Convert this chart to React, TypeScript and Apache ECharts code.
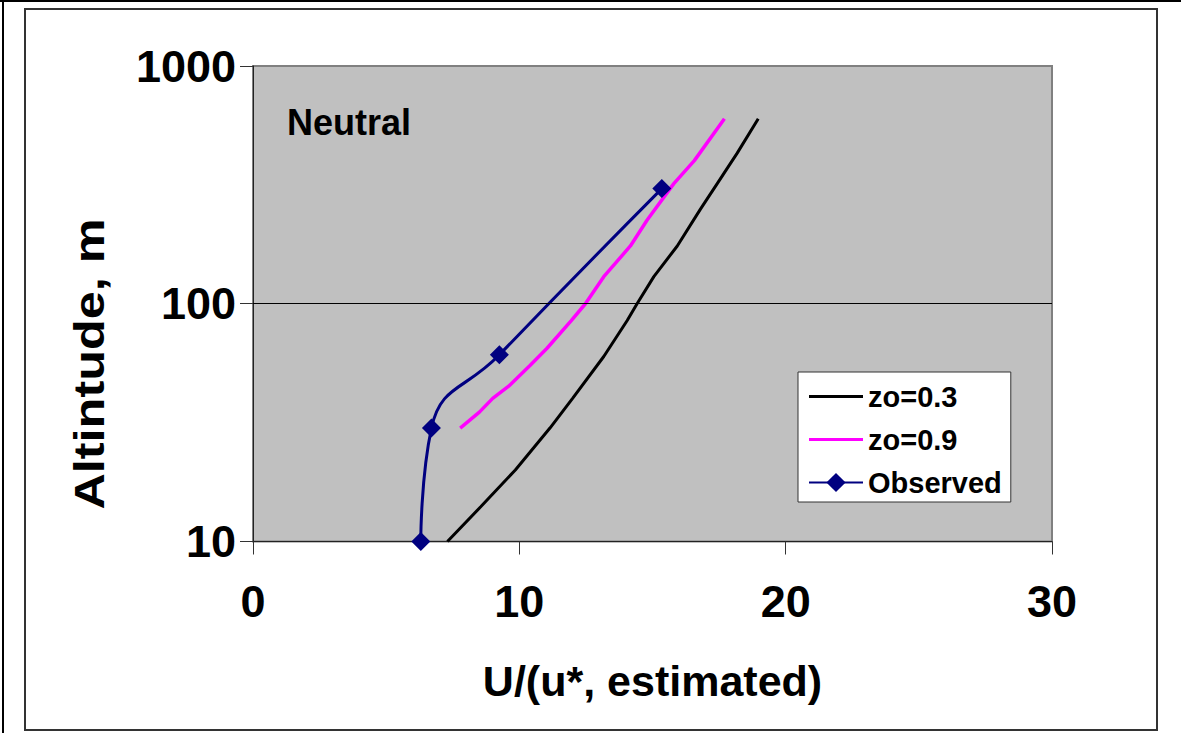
import { useEffect, useRef } from "react";
import * as echarts from "echarts";

// ---- data ----
const xTicks = [0, 10, 20, 30];
const yTicks = [10, 100, 1000];

// zo = 0.3 profile (U/u* vs altitude)
const z03Heights = [10, 14, 20, 30, 40, 60, 85, 100, 130, 175, 250, 320, 430, 600];
const z03Speeds = [7.3, 8.55, 9.85, 11.15, 12.0, 13.17, 14.05, 14.42, 15.05, 15.93, 16.8, 17.43, 18.18, 18.97];

// zo = 0.9 profile
const z09Heights = [30, 35, 40, 45, 55, 65, 85, 100, 130, 175, 225, 320, 400, 600];
const z09Speeds = [7.78, 8.5, 9.0, 9.6, 10.4, 11.04, 11.95, 12.48, 13.17, 14.17, 14.8, 15.8, 16.57, 17.7];

// observed
const obsHeights = [10, 30, 61, 305];
const obsSpeeds = [6.3, 6.7, 9.25, 15.35];

const seriesNames = ["zo=0.3", "zo=0.9", "Observed"];
const annotation = "Neutral";
const xTitle = "U/(u*, estimated)";
const yTitle = "Altintude, m";

const FONT = "'Liberation Sans', Arial, Helvetica, sans-serif";
const LINE_ICON = "path://M0 0H54V3H0Z";

const pairs = (xs: number[], ys: number[]) => xs.map((x, i) => [x, ys[i]]);

export default function App() {
  const ref = useRef<HTMLDivElement>(null);
  useEffect(() => {
    const chart = echarts.init(ref.current!, null, { renderer: "svg" });
    chart.setOption({
      animation: false,
      backgroundColor: "#ffffff",
      textStyle: { fontFamily: FONT },
      grid: {
        left: 253,
        top: 66,
        right: 129,
        bottom: 191.5,
        show: true,
        backgroundColor: "#C0C0C0",
        borderColor: "#808080",
        borderWidth: 2,
      },
      legend: {
        orient: "vertical",
        left: 798,
        top: 372,
        backgroundColor: "#ffffff",
        borderColor: "#333333",
        borderWidth: 1,
        borderRadius: 0,
        padding: [9, 9, 4, 10],
        itemWidth: 54,
        itemHeight: 24,
        itemGap: 12,
        textStyle: { fontFamily: FONT, fontSize: 29, fontWeight: "bold", color: "#000", lineHeight: 31 },
        data: [
          { name: seriesNames[0], icon: LINE_ICON },
          { name: seriesNames[1], icon: LINE_ICON },
          { name: seriesNames[2] },
        ],
      },
      xAxis: {
        type: "value",
        min: xTicks[0],
        max: xTicks[xTicks.length - 1],
        interval: xTicks[1] - xTicks[0],
        axisLine: { show: true, lineStyle: { color: "#222", width: 1 } },
        axisTick: { show: true, length: 13, lineStyle: { color: "#333", width: 1 } },
        axisLabel: { fontFamily: FONT, fontSize: 45, fontWeight: "bold", color: "#000", margin: 37 },
        splitLine: { show: false },
        name: xTitle,
        nameLocation: "middle",
        nameGap: 118,
        nameTextStyle: { fontFamily: FONT, fontSize: 43, fontWeight: "bold", color: "#000" },
      },
      yAxis: {
        type: "log",
        logBase: 10,
        min: yTicks[0],
        max: yTicks[yTicks.length - 1],
        axisLine: { show: true, lineStyle: { color: "#222", width: 1 } },
        axisTick: { show: true, length: 13, lineStyle: { color: "#333", width: 1 } },
        minorTick: { show: false },
        axisLabel: {
          fontFamily: FONT,
          fontSize: 45,
          fontWeight: "bold",
          color: "#000",
          margin: 17,
          formatter: (v: number) => String(Math.round(v)),
        },
        splitLine: { show: false },
      },
      series: [
        {
          name: seriesNames[0],
          type: "line",
          symbol: "none",
          color: "#000000",
          lineStyle: { color: "#000000", width: 3 },
          data: pairs(z03Speeds, z03Heights),
          markLine: {
            silent: true,
            symbol: ["none", "none"],
            label: { show: false },
            lineStyle: { color: "#000", width: 1, type: "solid" },
            data: [{ yAxis: yTicks[1] }],
          },
        },
        {
          name: seriesNames[1],
          type: "line",
          symbol: "none",
          color: "#FF00FF",
          lineStyle: { color: "#FF00FF", width: 3.5 },
          data: pairs(z09Speeds, z09Heights),
        },
        {
          name: seriesNames[2],
          type: "line",
          symbol: "diamond",
          symbolSize: 19,
          smooth: 0.5,
          color: "#000080",
          itemStyle: { color: "#000080" },
          lineStyle: { color: "#000080", width: 3 },
          data: pairs(obsSpeeds, obsHeights),
        },
      ],
      graphic: [
        {
          type: "rect",
          shape: { x: 25, y: 9, width: 1132, height: 721 },
          style: { fill: "none", stroke: "#333", lineWidth: 2 },
          silent: true,
          z: -10,
        },
        {
          type: "line",
          shape: { x1: 3, y1: 0, x2: 3, y2: 733 },
          style: { stroke: "#000", lineWidth: 2 },
          silent: true,
        },
        {
          type: "line",
          shape: { x1: 0, y1: 1, x2: 1181, y2: 1 },
          style: { stroke: "#000", lineWidth: 2 },
          silent: true,
        },
        {
          type: "text",
          left: 287,
          top: 104,
          style: { text: annotation, fontFamily: FONT, fontSize: 36, fontWeight: "bold", fill: "#000" },
          silent: true,
        },
        {
          type: "text",
          x: 90,
          y: 364,
          rotation: Math.PI / 2,
          scaleX: 1.2,
          scaleY: 1,
          style: {
            text: yTitle,
            fontFamily: FONT,
            fontSize: 42,
            fontWeight: "bold",
            fill: "#000",
            align: "center",
            verticalAlign: "middle",
          },
          silent: true,
        },
      ],
    });
    return () => chart.dispose();
  }, []);
  return (
    <div
      ref={ref}
      style={{ position: "fixed", left: 0, top: 0, width: 1181, height: 733, background: "#fff" }}
    />
  );
}
